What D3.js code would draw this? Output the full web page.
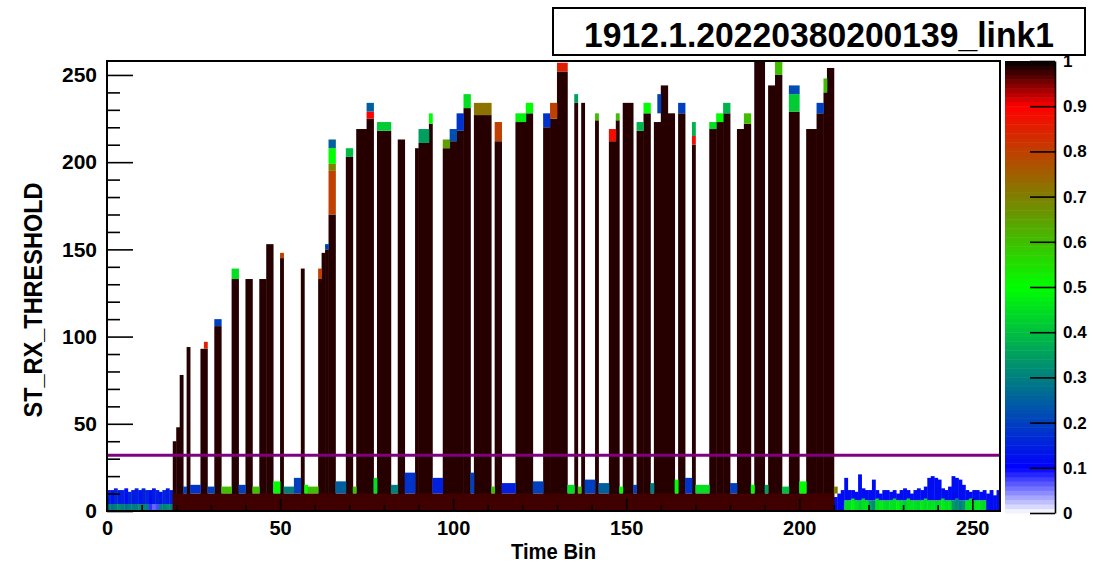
<!DOCTYPE html>
<html>
<head>
<meta charset="utf-8">
<script src="https://cdn.jsdelivr.net/npm/d3@7"></script>
<style>
  body { margin: 0; background: #fff; }
  text { font-family: "Liberation Sans", Arial, sans-serif; font-weight: bold; }
</style>
</head>
<body>
<svg width="1093" height="563"></svg>
<script>
// ---- data ----
const title = "1912.1.20220380200139_link1";
const xTitle = "Time Bin";
const yTitle = "ST_RX_THRESHOLD";
const xTicks = [0, 50, 100, 150, 200, 250];
const yTicks = [0, 50, 100, 150, 200, 250];
const zTicks = [0, 0.1, 0.2, 0.3, 0.4, 0.5, 0.6, 0.7, 0.8, 0.9, 1];
const threshold = 32;

// bins 0..18 : noise at low threshold
const leftTop    = [12, 12, 13, 12, 12, 13, 11, 12, 13, 12, 13, 12, 12, 13, 12, 11, 12, 13, 12];
const leftVal    = [0.15, 0.13, 0.16, 0.14, 0.15, 0.12, 0.16, 0.14, 0.15, 0.13, 0.15, 0.16, 0.12, 0.14, 0.15, 0.13, 0.16, 0.14, 0.15];
const leftLowVal = [0.3, 0.28, 0.3, 0.32, 0.3, 0.28, 0.3, 0.3, 0.3, 0.32, 0.3, 0.3, 0.08, 0.06, 0.07, 0.3, 0.3, 0.32, 0.3];

// bins 210..257 : noise after the bursts
const rightTop = [8, 10, 12, 19, 12, 12, 11, 21, 13, 12, 12, 18, 12, 10, 12, 12,
                  11, 12, 10, 12, 13, 12, 10, 12, 13, 12, 14, 19, 20, 19, 18, 13,
                  12, 14, 20, 19, 18, 15, 12, 11, 12, 12, 11, 12, 10, 12, 9, 12];
const rightGreen = [0, 0, 0, 6, 6, 7, 6, 6, 7, 6, 6, 6, 7, 6, 6, 6,
                    6, 7, 6, 6, 6, 7, 6, 6, 6, 6, 7, 6, 6, 6, 6, 7,
                    6, 6, 6, 7, 6, 6, 6, 7, 6, 6, 6, 6, 0, 0, 0, 0];
const rightGreenVal = [0, 0, 0, 0.45, 0.45, 0.48, 0.45, 0.42, 0.45, 0.46, 0.35, 0.32, 0.45, 0.47, 0.45, 0.44,
                       0.46, 0.45, 0.48, 0.45, 0.42, 0.45, 0.46, 0.45, 0.44, 0.47, 0.45, 0.45, 0.46, 0.44, 0.45, 0.47,
                       0.45, 0.46, 0.34, 0.32, 0.3, 0.33, 0.45, 0.46, 0.45, 0.47, 0.45, 0.44, 0, 0, 0, 0];

// dark band at the bottom of the burst region
const floorBins = [19, 209];
const floorTop = 10;
const floorVal = 0.975;

// dark columns: [first bin, last bin, top]
const columns = [
  [19, 19, 40], [20, 20, 48], [21, 21, 78], [23, 23, 94], [27, 28, 93], [31, 32, 106],
  [36, 37, 133], [40, 41, 133], [44, 45, 133], [46, 47, 153], [50, 50, 145], [56, 56, 139],
  [61, 61, 133], [62, 62, 148], [63, 63, 150], [64, 65, 170], [69, 70, 203], [72, 74, 219],
  [75, 76, 225], [78, 81, 218], [84, 85, 213], [89, 89, 208], [90, 92, 211], [93, 93, 222],
  [97, 98, 208], [99, 100, 212], [101, 102, 218], [103, 104, 231], [106, 110, 227], [112, 113, 212],
  [118, 120, 223], [121, 122, 228], [126, 127, 220], [128, 129, 225], [130, 132, 252], [135, 135, 234],
  [137, 137, 234], [141, 141, 224], [145, 146, 212], [147, 147, 224], [149, 151, 234], [153, 154, 218],
  [155, 156, 228], [158, 159, 223], [160, 161, 244], [162, 163, 228], [165, 166, 228], [169, 169, 210],
  [174, 175, 219], [176, 177, 223], [178, 179, 228], [182, 183, 219], [184, 185, 222], [187, 189, 258],
  [191, 192, 244], [193, 194, 250], [197, 199, 229], [202, 204, 219], [205, 206, 228], [207, 207, 240],
  [208, 209, 254]
];

// coloured tips: [first bin, last bin, from, to, value]
const caps = [
  [28, 28, 93, 97, 0.85], [31, 32, 106, 110, 0.2], [36, 37, 133, 139, 0.45], [50, 50, 145, 148, 0.8],
  [61, 61, 133, 139, 0.8], [63, 63, 150, 153, 0.2], [64, 65, 170, 195, 0.8], [64, 65, 195, 199, 0.7],
  [64, 65, 199, 208, 0.5], [64, 65, 208, 213, 0.25], [69, 70, 203, 208, 0.4], [75, 76, 225, 229, 0.9],
  [75, 76, 229, 234, 0.25], [78, 81, 218, 223, 0.42], [90, 92, 211, 219, 0.35], [93, 93, 222, 228, 0.5],
  [97, 98, 208, 213, 0.65], [99, 100, 212, 219, 0.22], [101, 102, 218, 228, 0.18], [103, 104, 231, 239, 0.45],
  [106, 110, 227, 234, 0.72], [112, 113, 212, 223, 0.8], [118, 120, 223, 228, 0.48], [121, 122, 228, 234, 0.5],
  [126, 127, 220, 228, 0.18], [128, 129, 225, 234, 0.8], [130, 132, 252, 257, 0.85], [135, 135, 234, 239, 0.35],
  [141, 141, 224, 228, 0.6], [145, 146, 212, 219, 0.88], [147, 147, 224, 228, 0.6], [153, 154, 218, 223, 0.38],
  [155, 156, 228, 234, 0.5], [159, 159, 228, 239, 0.2], [165, 166, 228, 234, 0.2], [169, 169, 210, 215, 0.88],
  [169, 169, 215, 223, 0.38], [174, 175, 219, 223, 0.45], [176, 177, 223, 228, 0.5], [178, 179, 228, 234, 0.38],
  [184, 185, 222, 228, 0.6], [193, 194, 250, 258, 0.6], [197, 199, 229, 239, 0.42], [197, 199, 239, 244, 0.22],
  [205, 206, 228, 234, 0.2], [207, 207, 240, 248, 0.6]
];

// coloured cells in the gaps just above the dark band: [first bin, last bin, top, value]
const gaps = [
  [22, 22, 14, 0.2], [24, 26, 15, 0.18], [29, 30, 14, 0.2], [33, 35, 14, 0.6], [38, 39, 15, 0.2],
  [42, 43, 14, 0.6], [48, 49, 17, 0.5], [51, 53, 14, 0.3], [54, 55, 19, 0.2], [57, 57, 15, 0.5],
  [58, 60, 14, 0.6], [66, 68, 17, 0.25], [71, 71, 14, 0.6], [77, 77, 19, 0.45], [82, 83, 15, 0.3],
  [86, 88, 22, 0.18], [94, 96, 19, 0.15], [105, 105, 22, 0.2], [111, 111, 14, 0.6], [114, 117, 16, 0.15],
  [123, 125, 17, 0.2], [133, 134, 15, 0.45], [136, 136, 14, 0.6], [138, 140, 18, 0.2], [142, 144, 16, 0.25],
  [148, 148, 14, 0.5], [152, 152, 15, 0.2], [157, 157, 16, 0.3], [164, 164, 18, 0.5], [167, 168, 19, 0.18],
  [170, 173, 15, 0.45], [180, 181, 16, 0.2], [186, 186, 15, 0.5], [190, 190, 15, 0.35], [195, 196, 14, 0.4],
  [200, 201, 17, 0.5], [210, 210, 14, 0.7]
];

// ---- drawing ----
const svg = d3.select('svg');
const x = d3.scaleLinear().domain([0, 258]).range([107, 1000]);
const y = d3.scaleLinear().domain([0, 258]).range([511, 61]);
const pal = d3.scaleLinear()
  .domain([0, 0.1, 0.5, 0.9, 1])
  .range(['#ffffff', '#0000ff', '#00ff00', '#ff0000', '#000000']);

const cells = [];
leftTop.forEach((t, i) => {
  cells.push({ b: i, w: 1, lo: 0, hi: 4, v: leftLowVal[i] });
  cells.push({ b: i, w: 1, lo: 4, hi: t, v: leftVal[i] });
});
rightTop.forEach((t, i) => {
  const b = 210 + i;
  cells.push({ b: b, w: 1, lo: rightGreen[i], hi: t, v: 0.12 });
  if (rightGreen[i] > 0) cells.push({ b: b, w: 1, lo: 0, hi: rightGreen[i], v: rightGreenVal[i] });
});
columns.forEach(c => cells.push({ b: c[0], w: c[1] - c[0] + 1, lo: 0, hi: c[2], v: 0.985 }));
gaps.forEach(g => cells.push({ b: g[0], w: g[1] - g[0] + 1, lo: floorTop, hi: g[2], v: g[3] }));
cells.push({ b: floorBins[0], w: floorBins[1] - floorBins[0] + 1, lo: 0, hi: floorTop, v: floorVal });
caps.forEach(c => cells.push({ b: c[0], w: c[1] - c[0] + 1, lo: c[2], hi: c[3], v: c[4] }));

svg.append('g')
  .selectAll('rect')
  .data(cells)
  .join('rect')
  .attr('x', d => x(d.b))
  .attr('width', d => x(d.b + d.w) - x(d.b) + 0.4)
  .attr('y', d => y(Math.min(d.hi, 258)))
  .attr('height', d => y(d.lo) - y(Math.min(d.hi, 258)))
  .attr('fill', d => pal(d.v));

// threshold line
svg.append('line')
  .attr('x1', x(0)).attr('x2', x(258))
  .attr('y1', y(threshold)).attr('y2', y(threshold))
  .attr('stroke', '#800080').attr('stroke-width', 3);

// axes
const yMinor = d3.range(0, 258, 10).filter(v => v % 50 !== 0);
const xMinor = d3.range(0, 258, 10).filter(v => v % 50 !== 0);

function styleAxis(g, size) {
  g.select('.domain').remove();
  g.selectAll('line').attr('stroke', '#000').attr('stroke-width', 1.6);
  g.selectAll('text').attr('font-size', size).attr('fill', '#000')
    .attr('font-family', '"Liberation Sans", Arial, sans-serif').attr('font-weight', 'bold');
}

svg.append('g').attr('transform', `translate(${x(0)},0)`)
  .call(d3.axisLeft(y).tickValues(yMinor).tickSize(-13).tickFormat(''))
  .call(g => styleAxis(g, 20));
svg.append('g').attr('transform', `translate(${x(0)},0)`)
  .call(d3.axisLeft(y).tickValues(yTicks).tickSize(-26).tickPadding(10))
  .call(g => styleAxis(g, 21));

svg.append('g').attr('transform', `translate(0,${y(0)})`)
  .call(d3.axisBottom(x).tickValues(xMinor).tickSize(-6).tickFormat(''))
  .call(g => styleAxis(g, 20));
svg.append('g').attr('transform', `translate(0,${y(0)})`)
  .call(d3.axisBottom(x).tickValues(xTicks).tickSize(-12).tickPadding(10))
  .call(g => styleAxis(g, 20));

// frame
svg.append('rect')
  .attr('x', x(0)).attr('y', y(258))
  .attr('width', x(258) - x(0)).attr('height', y(0) - y(258))
  .attr('fill', 'none').attr('stroke', '#000').attr('stroke-width', 2);

// axis titles
svg.append('text')
  .attr('x', (x(0) + x(258)) / 2).attr('y', 559)
  .attr('text-anchor', 'middle').attr('font-size', 22)
  .attr('textLength', 85).attr('lengthAdjust', 'spacingAndGlyphs')
  .text(xTitle);
svg.append('text')
  .attr('transform', 'translate(42,300) rotate(-90)')
  .attr('text-anchor', 'middle').attr('font-size', 25)
  .attr('textLength', 235).attr('lengthAdjust', 'spacingAndGlyphs')
  .text(yTitle);

// colour bar
const cy = d3.scaleLinear().domain([0, 1]).range([513, 61]);
const steps = d3.range(0, 1, 0.01);
svg.append('g').selectAll('rect')
  .data(steps)
  .join('rect')
  .attr('x', 1005).attr('width', 50)
  .attr('y', d => cy(d + 0.01)).attr('height', d => cy(d) - cy(d + 0.01) + 0.5)
  .attr('fill', d => pal(d + 0.005));
svg.append('g').attr('transform', 'translate(1055,0)')
  .call(d3.axisRight(cy).tickValues(zTicks).tickSize(-25).tickSizeOuter(0).tickPadding(8).tickFormat(d3.format('~g')))
  .call(g => {
    g.select('.domain').attr('stroke', '#000').attr('stroke-width', 1.6);
    g.selectAll('line').attr('stroke', '#000').attr('stroke-width', 1.6);
    g.selectAll('text').attr('font-size', 17).attr('fill', '#000')
      .attr('font-family', '"Liberation Sans", Arial, sans-serif').attr('font-weight', 'bold');
  });

// title box
svg.append('rect')
  .attr('x', 553).attr('y', 8).attr('width', 532).attr('height', 47)
  .attr('fill', '#fff').attr('stroke', '#000').attr('stroke-width', 2);
svg.append('text')
  .attr('x', 819).attr('y', 47)
  .attr('text-anchor', 'middle').attr('font-size', 35)
  .attr('textLength', 470).attr('lengthAdjust', 'spacingAndGlyphs')
  .text(title);
</script>
</body>
</html>
